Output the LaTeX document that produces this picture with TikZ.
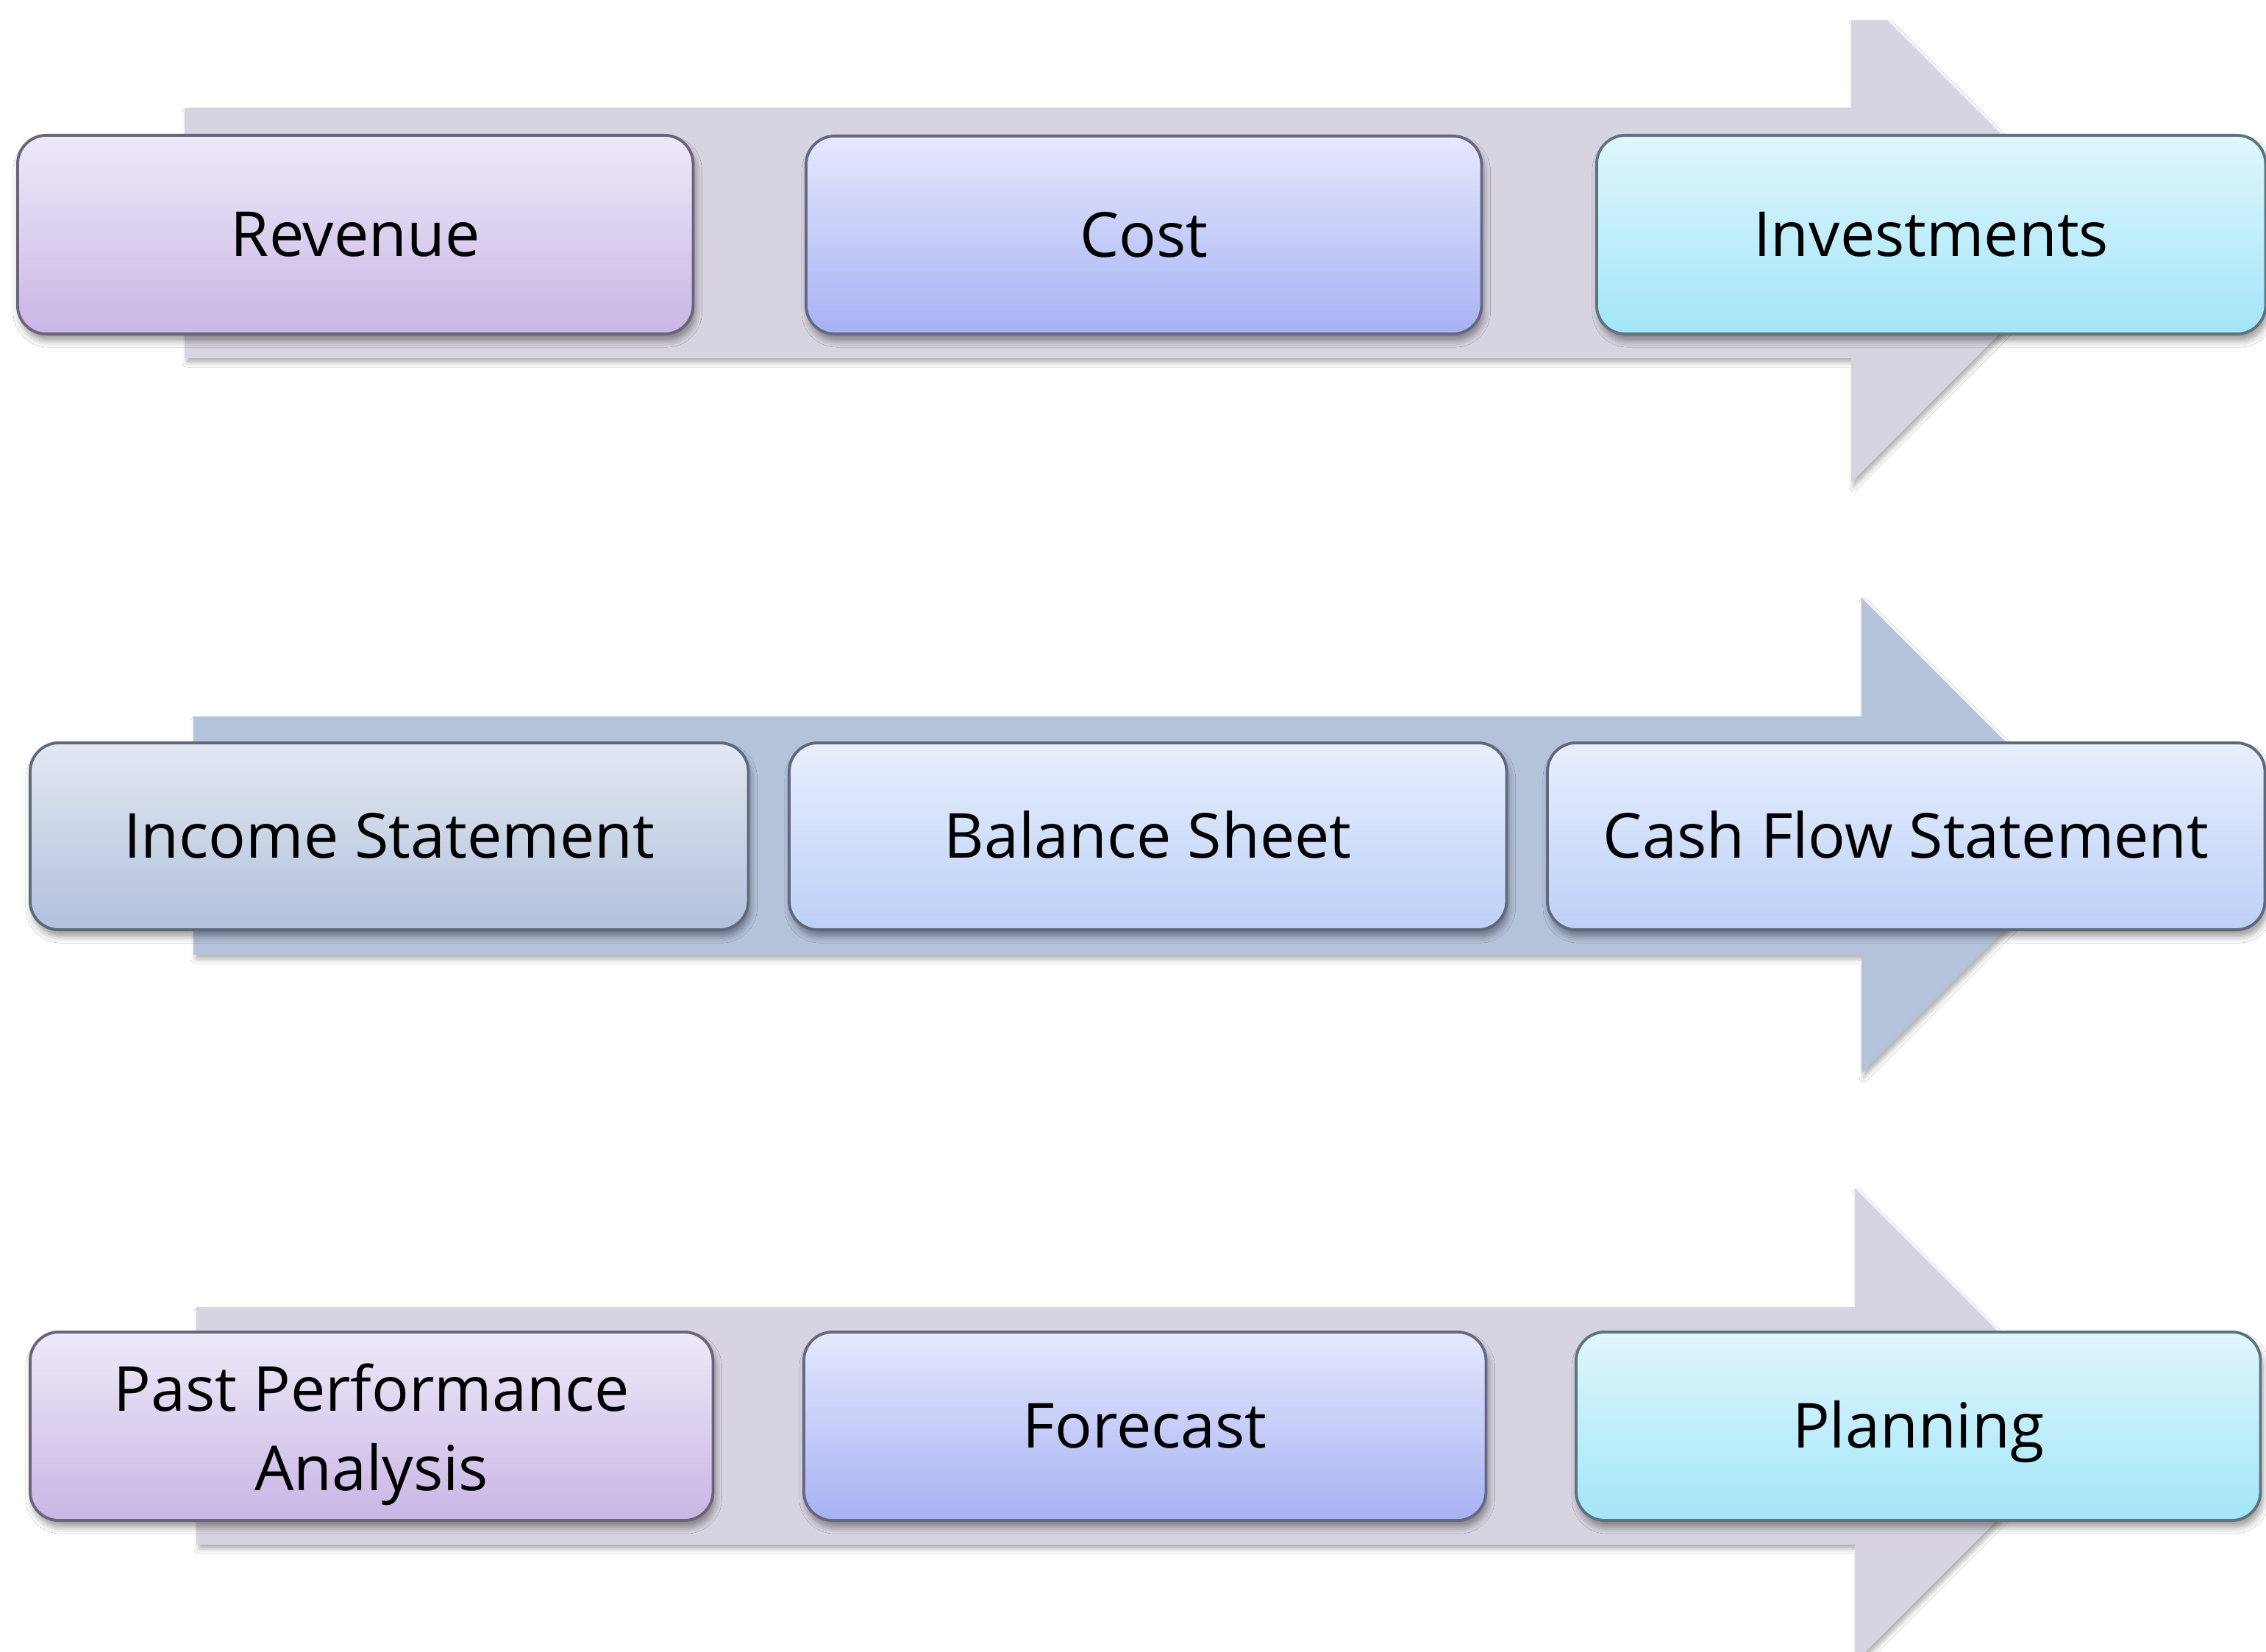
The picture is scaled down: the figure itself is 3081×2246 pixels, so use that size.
\documentclass[tikz,border=0pt]{standalone}
\usepackage{fontspec}
\setmainfont{Open Sans}
\usetikzlibrary{shadows.blur}
\definecolor{bandA}{RGB}{216,211,224}
\definecolor{bandB}{RGB}{180,194,218}
\definecolor{edgeP}{RGB}{108,98,122}
\definecolor{edgeB}{RGB}{100,104,132}
\definecolor{edgeC}{RGB}{92,116,128}
\definecolor{edgeS}{RGB}{96,104,124}
\definecolor{pTop}{RGB}{238,233,248}
\definecolor{pBot}{RGB}{201,182,230}
\definecolor{bTop}{RGB}{230,232,252}
\definecolor{bBot}{RGB}{166,178,244}
\definecolor{cTop}{RGB}{224,246,252}
\definecolor{cBot}{RGB}{162,230,249}
\definecolor{gTop}{RGB}{227,232,242}
\definecolor{gBot}{RGB}{178,193,220}
\definecolor{lTop}{RGB}{232,239,253}
\definecolor{lBot}{RGB}{188,208,247}
\begin{document}
\begin{tikzpicture}[x=0.01cm,y=-0.01cm,
  band/.style={blur shadow={shadow xshift=0.3mm, shadow yshift=-0.6mm, shadow blur radius=0.6mm, shadow opacity=30}},
  box/.style={line width=1.1pt, rounded corners=3.9mm, inner sep=0pt, anchor=north west,
    font=\fontsize{24}{30.7}\selectfont, align=center, text height=17pt, text depth=0pt,
    shading angle=0,
    blur shadow={shadow xshift=0.3mm, shadow yshift=-0.9mm, shadow blur radius=0.9mm, shadow opacity=40}},
  purp/.style={box, draw=edgeP, top color=pTop, bottom color=pBot},
  blu/.style={box, draw=edgeB, top color=bTop, bottom color=bBot},
  cya/.style={box, draw=edgeC, top color=cTop, bottom color=cBot},
  gry/.style={box, draw=edgeS, top color=gTop, bottom color=gBot},
  lbl/.style={box, draw=edgeS, top color=lTop, bottom color=lBot}
]
\useasboundingbox (0,0) rectangle (3081,2246);
\fill[white] (0,0) rectangle (3081,2246);
\clip (0,0) rectangle (3081,2246);

% Row 1
\fill[bandA, band] (251,147) -- (2517,147) -- (2517,28) -- (2566,28) -- (2855,317)
  -- (2517,656) -- (2517,487) -- (251,487) -- cycle;
\node[purp, minimum width=9.18cm, minimum height=2.70cm] (rev) at (22,182) {Revenue};
\node[blu, minimum width=9.18cm, minimum height=2.69cm] (cost) at (1094,183) {Cost};
\node[cya, minimum width=9.09cm, minimum height=2.70cm] (inv) at (2169,182) {Investments};

% Row 2
\fill[bandB, band] (263,974) -- (2531,974) -- (2531,813) -- (2854,1136)
  -- (2531,1459) -- (2531,1298) -- (263,1298) -- cycle;
\node[gry, minimum width=9.76cm, minimum height=2.54cm] (inc) at (39,1008) {Income Statement};
\node[lbl, minimum width=9.75cm, minimum height=2.54cm] (bal) at (1071,1008) {Balance Sheet};
\node[lbl, minimum width=9.75cm, minimum height=2.54cm] (cash) at (2102,1008) {Cash Flow Statement};

% Row 3
\fill[bandA, band] (267,1777) -- (2522,1777) -- (2522,1616) -- (2844,1938)
  -- (2522,2260) -- (2522,2100) -- (267,2100) -- cycle;
\node[purp, minimum width=9.28cm, minimum height=2.56cm, text height=50pt] (past) at (39,1809) {Past Performance\\Analysis};
\node[blu, minimum width=9.27cm, minimum height=2.56cm] (fore) at (1091,1809) {Forecast};
\node[cya, minimum width=9.30cm, minimum height=2.56cm] (plan) at (2141,1809) {Planning};
\end{tikzpicture}
\end{document}
